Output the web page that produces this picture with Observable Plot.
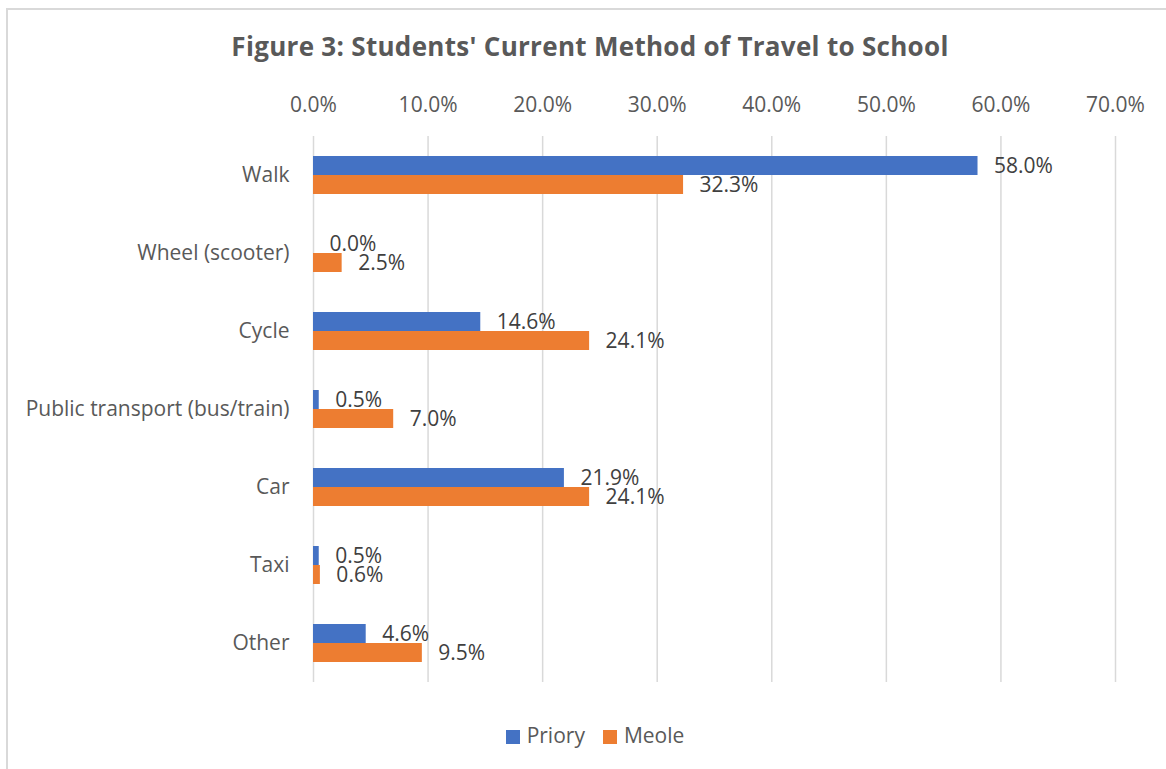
<!DOCTYPE html>
<html>
<head>
<meta charset="utf-8">
<script src="https://cdn.jsdelivr.net/npm/d3@7"></script>
<script src="https://cdn.jsdelivr.net/npm/@observablehq/plot@0.6"></script>
<style>
  html, body { margin: 0; padding: 0; background: #fff; overflow: hidden; width: 1166px; height: 769px; }
  #frame { position: absolute; left: 6px; top: 8px; width: 1200px; height: 800px; border: 2px solid #d9d9d9; box-sizing: border-box; }
  #title { position: absolute; left: 0; width: 1180px; top: 28px; text-align: center; font-family: "Open Sans", sans-serif; font-weight: bold; font-size: 26px; letter-spacing: 0.3px; color: #595959; }
  #chart { position: absolute; left: 0; top: 75px; }
  #legend { position: absolute; left: 0; width: 1190px; top: 721px; text-align: center; font-family: "Open Sans", sans-serif; font-size: 21px; color: #595959; }
  #legend span.sw { display: inline-block; width: 14px; height: 14px; margin-right: 7px; vertical-align: -1px; }
  #legend span.item { margin: 0 9px; }
</style>
</head>
<body>
<div id="frame"></div>
<div id="title">Figure 3: Students' Current Method of Travel to School</div>
<div id="chart"></div>
<div id="legend"></div>
<script>
const categories = ["Walk", "Wheel (scooter)", "Cycle", "Public transport (bus/train)", "Car", "Taxi", "Other"];
const series = ["Priory", "Meole"];
const priory = [58.0, 0.0, 14.6, 0.5, 21.9, 0.5, 4.6];
const meole = [32.3, 2.5, 24.1, 7.0, 24.1, 0.6, 9.5];
const xTicks = [0, 10, 20, 30, 40, 50, 60, 70];
const colors = ["#4472C4", "#ED7D31"];

const values = {Priory: priory, Meole: meole};
const data = [];
categories.forEach((c, i) => {
  series.forEach(s => data.push({category: c, series: s, value: values[s][i]}));
});

const fmt = v => v.toFixed(1) + "%";

const chart = Plot.plot({
  width: 1166,
  height: 620,
  marginTop: 58,
  marginBottom: 10,
  marginLeft: 313,
  marginRight: 51,
  style: {fontFamily: "'Open Sans', sans-serif", fontSize: "21px", color: "#595959", background: "transparent"},
  x: {domain: [0, 70], ticks: xTicks, tickFormat: fmt, axis: null},
  fy: {domain: categories, padding: 0, label: null},
  y: {domain: series, paddingInner: 0, paddingOuter: 0.97, axis: null},
  color: {domain: series, range: colors},
  facet: {data: data, y: "category"},
  marks: [
    Plot.ruleX(xTicks, {stroke: "#d9d9d9", strokeWidth: 1.5, strokeOpacity: 1}),
    Plot.axisX({anchor: "top", ticks: xTicks, tickFormat: fmt, tickSize: 0, tickPadding: 25, fontSize: 21, fill: "#595959", label: null, facetAnchor: "top"}),
    Plot.axisFy({anchor: "left", tickSize: 0, tickPadding: 24, fontSize: 21, fill: "#595959", label: null}),
    Plot.barX(data, {x: "value", y: "series", fill: "series"}),
    Plot.text(data, {x: "value", y: "series", text: d => fmt(d.value), textAnchor: "start", dx: 16, fill: "#404040", fontSize: 21})
  ]
});
document.getElementById("chart").appendChild(chart);

const legend = document.getElementById("legend");
series.forEach((s, i) => {
  const item = document.createElement("span");
  item.className = "item";
  const sw = document.createElement("span");
  sw.className = "sw";
  sw.style.background = colors[i];
  item.appendChild(sw);
  item.appendChild(document.createTextNode(s));
  legend.appendChild(item);
});
</script>
</body>
</html>
